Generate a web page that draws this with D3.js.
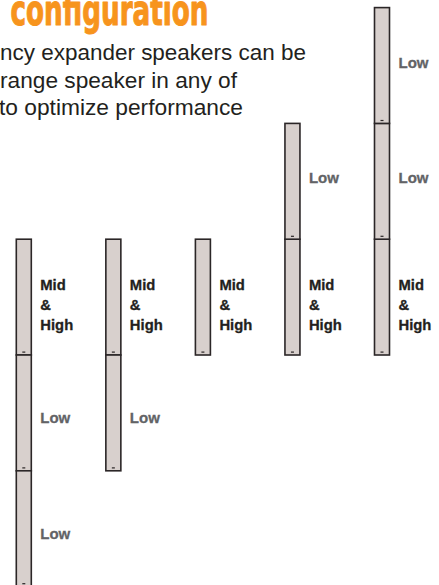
<!DOCTYPE html>
<html>
<head>
<meta charset="utf-8">
<script src="https://cdn.jsdelivr.net/npm/d3@7"></script>
<style>
  html, body { margin: 0; padding: 0; background: #fff; overflow: hidden; }
  svg { display: block; }
</style>
</head>
<body>
<svg id="chart" width="439" height="585"></svg>
<script>
// ---- data ----
const titleText = "configuration";
const bodyLines = [
  "ncy expander speakers can be",
  "range speaker in any of",
  "to optimize performance"
];
const columns = [0, 1, 2, 3, 4];           // five configurations, left to right
const lowBelow = [2, 1, 0, 0, 0];           // Low units stacked under the Mid & High unit
const lowAbove = [0, 0, 0, 1, 2];           // Low units stacked on top of the Mid & High unit
const midHighLabel = ["Mid", "&", "High"];
const lowLabel = "Low";

// ---- build units ----
const units = [];
columns.forEach((c, i) => {
  units.push({ col: c, level: 0, type: "mid" });
  for (let k = 1; k <= lowAbove[i]; k++) units.push({ col: c, level: k, type: "low" });
  for (let k = 1; k <= lowBelow[i]; k++) units.push({ col: c, level: -k, type: "low" });
});

// ---- scales ----
const x = d3.scaleLinear().domain([0, 4]).range([23.8, 382]);
const y = d3.scaleLinear().domain([0, 1]).range([355, 239.2]);
const colW = 15;

const svg = d3.select("#chart");

// title (its top is cropped by the frame, as in the reference)
svg.append("text")
  .attr("x", 10.5).attr("y", 25)
  .attr("textLength", 198).attr("lengthAdjust", "spacingAndGlyphs")
  .attr("font-family", "'Liberation Sans Narrow', 'Arial Narrow', 'DejaVu Sans Condensed', sans-serif")
  .attr("font-weight", "bold")
  .attr("font-size", 42)
  .attr("fill", "#f7941d")
  .attr("stroke", "#f7941d")
  .attr("stroke-width", 1)
  .attr("stroke-linejoin", "round")
  .text(titleText);

// body text
const bodyX = [0, 0, -1];
const bodyW = [306, 237, 243];
svg.append("g").selectAll("text").data(bodyLines).join("text")
  .attr("x", (d, i) => bodyX[i])
  .attr("y", (d, i) => 60 + i * 27.5)
  .attr("textLength", (d, i) => bodyW[i] - bodyX[i])
  .attr("lengthAdjust", "spacingAndGlyphs")
  .attr("font-family", "'Liberation Sans', Arial, Helvetica, sans-serif")
  .attr("font-size", 22.3)
  .attr("fill", "#231f20")
  .text(d => d);

// units
const g = svg.append("g");
units.forEach(u => {
  const top = y(u.level + 1), bot = y(u.level);
  const cx = x(u.col);
  g.append("rect")
    .attr("x", cx - colW / 2).attr("y", top)
    .attr("width", colW).attr("height", bot - top)
    .attr("fill", "#d8d0cd")
    .attr("stroke", "#2b2627")
    .attr("stroke-width", 1.6);
  // small marker near bottom of unit
  g.append("rect")
    .attr("x", cx - 1.5).attr("y", bot - 3.5)
    .attr("width", 3).attr("height", 1.2)
    .attr("fill", "#2b2627");
});

// labels
const lab = svg.append("g")
  .attr("font-family", "'Liberation Sans', Arial, Helvetica, sans-serif")
  .attr("font-weight", "bold")
  .attr("font-size", 14.8);

units.forEach(u => {
  const mid = (y(u.level + 1) + y(u.level)) / 2;
  const lx = x(u.col) + 16.5;
  if (u.type === "mid") {
    lab.append("text")
      .attr("x", lx).attr("y", mid + 12.5)
      .attr("fill", "#231f20")
      .attr("stroke", "#231f20").attr("stroke-width", 0.3)
      .selectAll("tspan").data(midHighLabel).join("tspan")
      .attr("x", lx)
      .attr("dy", (d, i) => i === 0 ? -20 : 20)
      .text(d => d);
  } else {
    lab.append("text")
      .attr("x", lx)
      .attr("y", mid + (u.level > 0 ? 2 : 10))
      .attr("fill", "#626366")
      .attr("stroke", "#626366").attr("stroke-width", 0.3)
      .attr("font-size", 15)
      .text(lowLabel);
  }
});
</script>
</body>
</html>
